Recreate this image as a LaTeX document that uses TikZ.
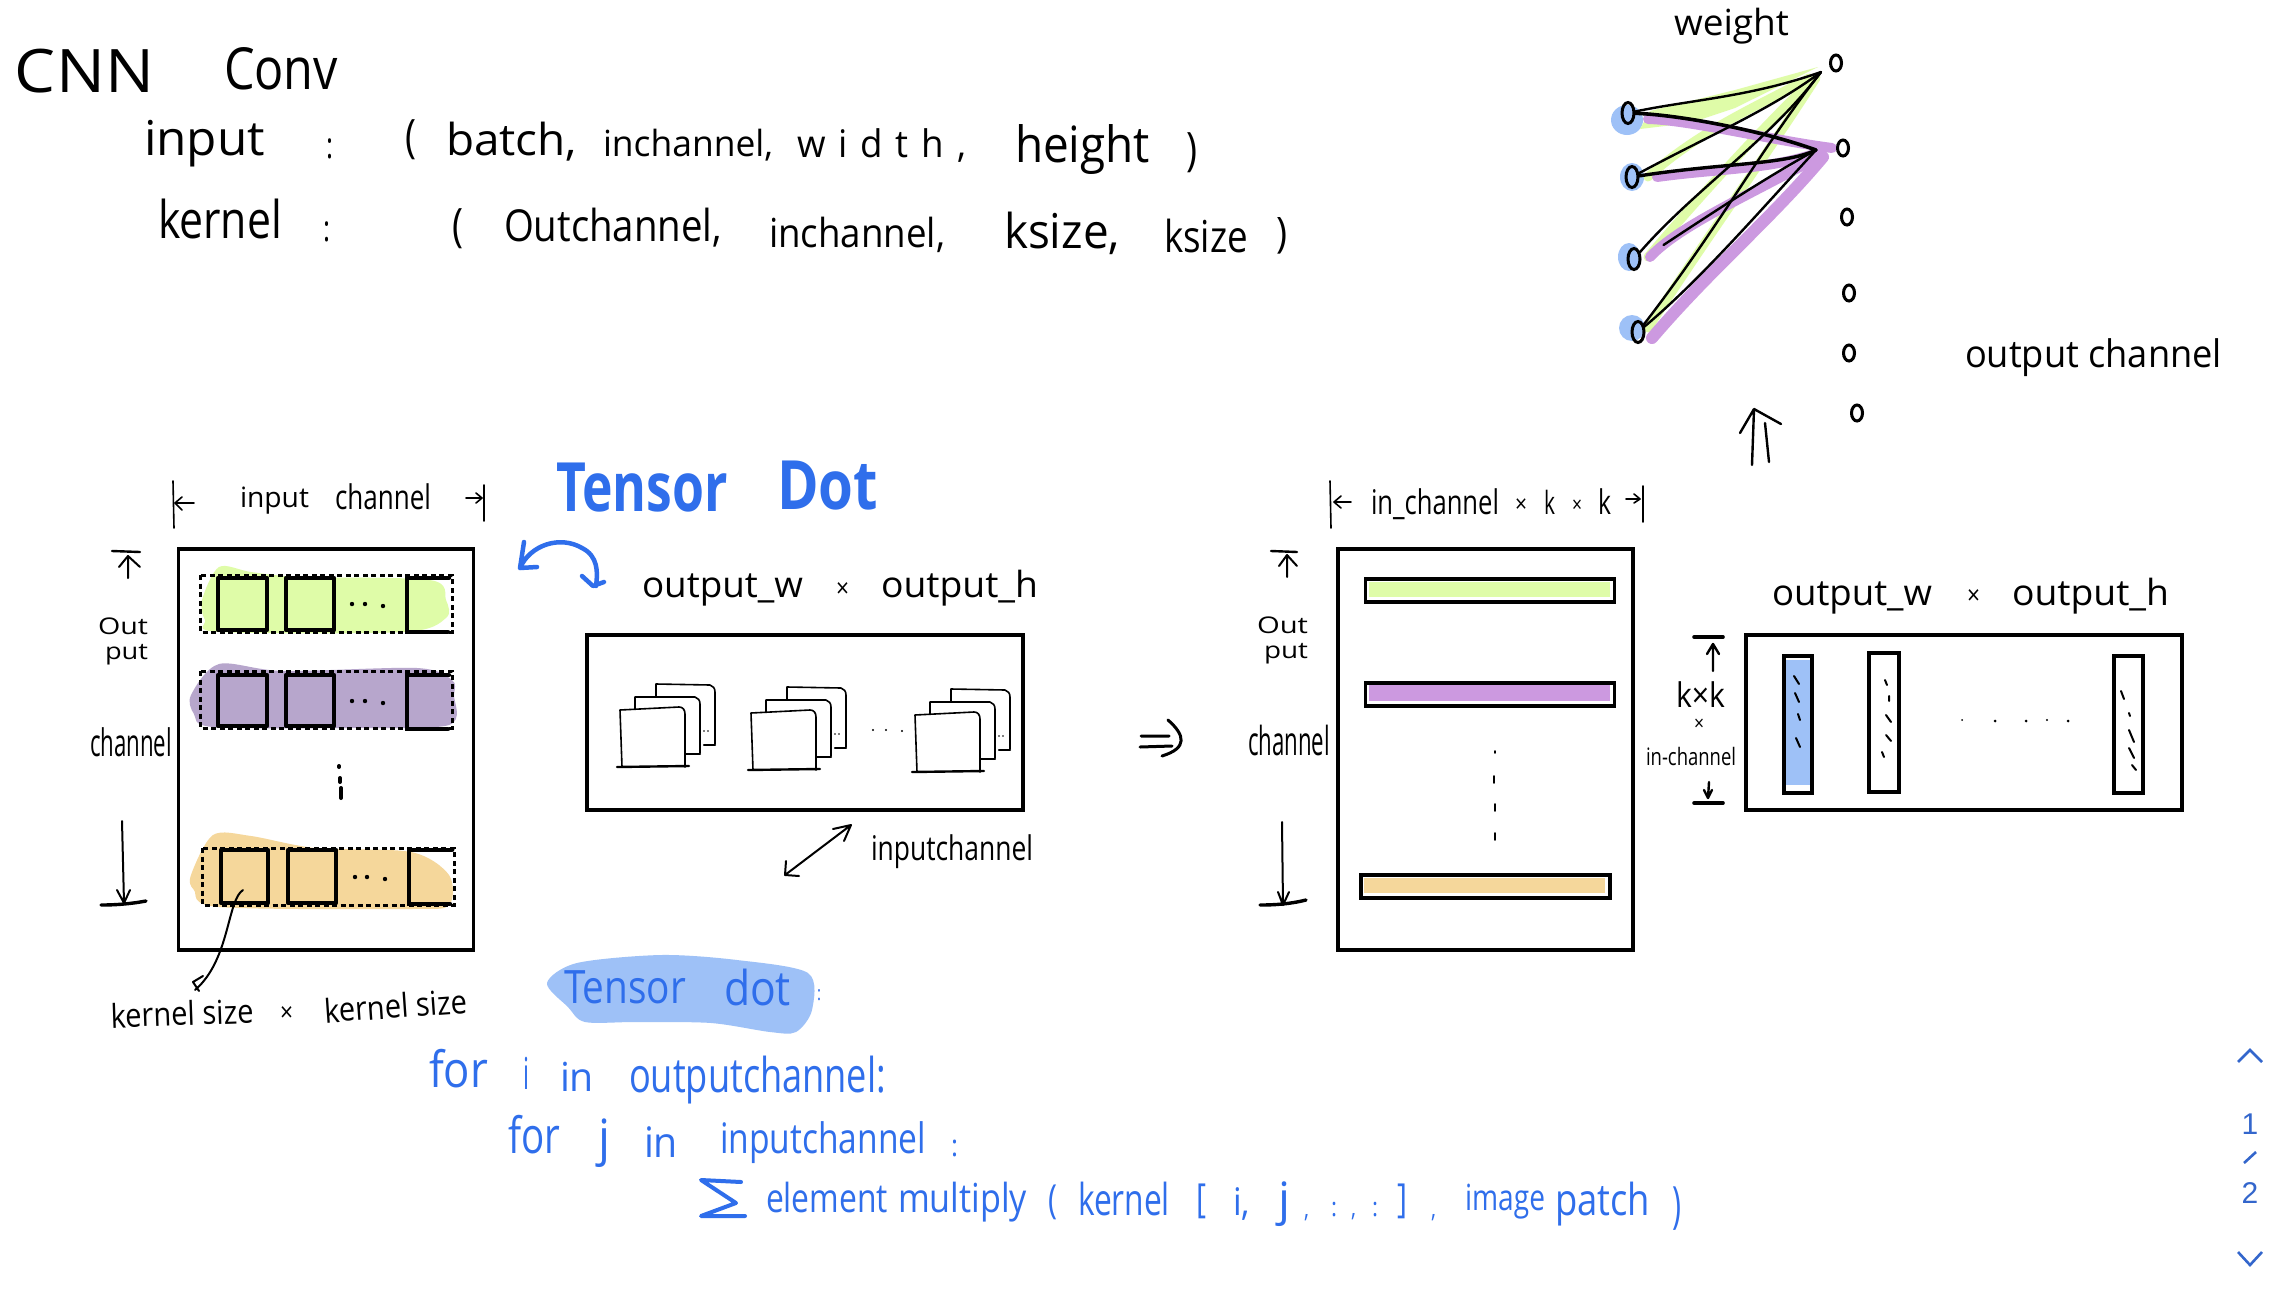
\documentclass[tikz,border=0pt]{standalone}
\usepackage{fontspec}
\usepackage{graphicx}
\setmainfont{Open Sans}
\newfontfamily\navfont{Liberation Sans}
\usetikzlibrary{shapes.geometric}
\definecolor{inkblue}{HTML}{2F6EEB}
\definecolor{hiblue}{HTML}{9EC1F7}
\definecolor{higreen}{HTML}{DFFCA8}
\definecolor{hipurple}{HTML}{B7A6CC}
\definecolor{himagenta}{HTML}{CC99E0}
\definecolor{hiorange}{HTML}{F5D79B}
\definecolor{navblue}{HTML}{3366CC}
\tikzset{
  hw/.style={inner sep=0pt,outer sep=0pt,anchor=base west,text=black},
  bluetxt/.style={text=inkblue},
  spaced/.style={font=\addfontfeature{LetterSpace=35}},
  pen/.style={line width=2.4pt,line cap=round,line join=round},
  thickpen/.style={line width=4pt,line cap=round,line join=round},
  thinpen/.style={line width=1.6pt,line cap=round,line join=round},
  bluepen/.style={line width=3pt,line cap=round,line join=round,draw=inkblue},
  framebox/.style={draw,line width=3.2pt,fill=none},
  barbox/.style={draw,line width=3.6pt,fill=none},
  dashrow/.style={draw,line width=3pt,dash pattern=on 5pt off 3.5pt},
  kernelbox/.style={draw,line width=4.5pt,line join=round},
  inode/.style={ellipse,draw,line width=3pt,minimum width=12pt,minimum height=21pt,inner sep=0pt},
  onode/.style={ellipse,draw,line width=3pt,minimum width=11pt,minimum height=16pt,inner sep=0pt},
  gstroke/.style={line width=9pt,draw=higreen,line cap=round},
  pstroke/.style={line width=10pt,draw=himagenta,line cap=round},
  navline/.style={draw=navblue,line width=2.6pt,line join=miter},
}
% \T[style]{name}{x}{baseline y}{width}{size}{text}
\newcommand\T[7][]{\node[hw,#1] (#2) at (#3,#4) {\fontsize{#6pt}{#6pt}\selectfont\resizebox{#5pt}{\height}{#7}};}
\newcommand\cardstack[2]{%
\begin{scope}[shift={(#1,#2)}]
  \fill[white] (36,-26) rectangle (95,35);
  \draw[thinpen] (36,-10) -- (36,-26) -- (90,-25) .. controls (93,-24) and (95,-22) .. (95,-18) -- (95,34);
  \draw[pen] (84,35) -- (95,35);
  \fill[black] (84,21) circle (.9) (88,21) circle (.9);
  \fill[white] (15,-13) rectangle (80,44);
  \draw[thinpen] (15,0) -- (15,-13) -- (75,-13) .. controls (78,-12) and (80,-10) .. (80,-6) -- (80,43);
  \draw[pen] (65,44) -- (80,44);
  \fill[white] (0,0) rectangle (65,57);
  \draw[thinpen] (2,57) -- (0,0) -- (59,-3) .. controls (63,-3) and (65,0) .. (65,4) -- (65,57);
  \draw[pen] (-3,57) -- (69,56);
\end{scope}}
\begin{document}
\begin{tikzpicture}[x=1pt,y=-1pt]
\useasboundingbox (0,0) rectangle (2284,1288);
\fill[white] (0,0) rectangle (2284,1288);

% ---------- header text
\T{tCNN}{15}{92}{139}{60}{CNN}
\T{tConv}{224}{89}{114}{58}{Conv}
\T{tinput}{144}{155}{121}{48}{input}
\T{tc1}{326}{158}{7}{36}{:}
\T{tp1}{405}{152}{11}{46}{(}
\T{tbatch}{446}{155}{131}{44}{batch,}
\T{tinch}{603}{156}{170}{36}{inchannel,}
\T[spaced]{twidth}{797}{157}{169}{38}{width,}
\T{theight}{1015}{162}{135}{50}{height}
\T{tp2}{1186}{165}{11}{46}{)}
\T{tkernel}{158}{238}{124}{52}{kernel}
\T{tc2}{323}{241}{7}{36}{:}
\T{tp3}{452}{241}{11}{46}{(}
\T{toutch}{504}{241}{218}{44}{Outchannel,}
\T{tinch2}{769}{247}{176}{40}{inchannel,}
\T{tks1}{1004}{248}{116}{48}{ksize,}
\T{tks2}{1164}{252}{84}{44}{ksize}
\T{tp4}{1276}{247}{11}{42}{)}

% ---------- weight diagram
\T{tweight}{1674}{35}{115}{36}{weight}
\T{toutput}{1965}{367}{257}{38}{output channel}
\fill[hiblue] (1627,120) ellipse (16 and 15) (1632,177) ellipse (12 and 14) (1629,257) ellipse (11 and 14) (1632,328) ellipse (13 and 13);
\fill[higreen] (1640,129) -- (1650,111) -- (1735,90) -- (1818,67) -- (1735,108) -- (1690,123) -- cycle;
\draw[gstroke] (1648,177) .. controls (1700,130) and (1760,105) .. (1809,78);
\draw[gstroke] (1648,257) .. controls (1694,203) and (1760,130) .. (1814,78);
\draw[gstroke] (1648,328) .. controls (1712,230) and (1770,150) .. (1816,78);
\draw[pstroke] (1648,119) .. controls (1690,120) and (1770,140) .. (1832,148);
\draw[pstroke] (1657,177) .. controls (1722,168) and (1770,170) .. (1820,152);
\draw[pstroke] (1650,257) .. controls (1680,225) and (1750,195) .. (1820,156);
\draw[pstroke,line width=12pt] (1652,338) .. controls (1710,270) and (1770,220) .. (1823,157);
\node[inode] (i1) at (1628,113) {};
\node[inode] (i2) at (1632,177) {};
\node[inode] (i3) at (1634,259) {};
\node[inode] (i4) at (1638,332) {};
\node[onode] (o1) at (1836,63) {};
\node[onode] (o2) at (1843,148) {};
\node[onode] (o3) at (1847,217) {};
\node[onode] (o4) at (1849,293) {};
\node[onode] (o5) at (1849,353) {};
\node[onode] (o6) at (1857,413) {};
\coordinate (cA) at (1821,72);
\coordinate (cB) at (1816,150);
\draw[pen] (i1) .. controls (1690,100) and (1750,97) .. (cA);
\draw[pen] (i2) .. controls (1710,135) and (1770,110) .. (cA);
\draw[pen] (i3) .. controls (1694,190) and (1770,140) .. (cA);
\draw[pen] (i4) .. controls (1722,223) and (1760,150) .. (cA);
\draw[line width=3.6pt,line cap=round] (i1) .. controls (1680,115) and (1760,130) .. (cB);
\draw[line width=3.4pt,line cap=round] (i2) .. controls (1722,163) and (1785,165) .. (cB);
\draw[pen] (i3.east) ++(22,-14) .. controls (1712,213) and (1770,175) .. (cB);
\draw[pen] (i4) .. controls (1700,280) and (1758,213) .. (cB);
% double arrow up
\draw[pen] (1752,465) -- (1754,409) (1740,433) -- (1754,409) -- (1781,424) (1769,462) -- (1765,423);

% ---------- left panel
\T{tlab1}{240}{507}{69}{28}{input}
\T{tlab2}{335}{509}{96}{34}{channel}
\draw[thinpen] (173,481) -- (174,528);
\draw[thinpen] (194,503) -- (175,503) (182,497) -- (175,503) -- (182,510);
\draw[thinpen] (466,498) -- (482,498) (476,493) -- (482,498) -- (476,503);
\draw[thinpen] (484,485) -- (484,521);
\node[framebox,minimum width=295pt,minimum height=401pt,inner sep=0pt] (inbox) at (326,749.5) {};
\fill[higreen] plot[smooth cycle] coordinates {(202,600) (219,567) (251,572) (300,577) (430,580) (446,600) (446,618) (404,632) (219,632) (205,620)};
\fill[hipurple] plot[smooth cycle] coordinates {(191,695) (219,664) (283,671) (417,668) (452,680) (454,695) (449,725) (350,728) (213,727) (194,714)};
\fill[hiorange] plot[smooth cycle] coordinates {(191,875) (213,835) (251,836) (315,848) (411,852) (449,875) (449,905) (411,909) (219,907) (194,890)};
\draw[dashrow] (200,575) rectangle (452,632);
\draw[dashrow] (200,671) rectangle (452,728);
\draw[dashrow] (202,848) rectangle (454,905);
\node[kernelbox,minimum width=49pt,minimum height=52pt,inner sep=0pt] (k11) at (242.5,604) {};
\node[kernelbox,minimum width=48pt,minimum height=52pt,inner sep=0pt] (k12) at (310,604) {};
\draw[line width=4.5pt,line cap=round] (449,578) -- (407,578) -- (407,632) -- (448,632);
\node[kernelbox,minimum width=49pt,minimum height=51pt,inner sep=0pt] (k21) at (242.5,700.5) {};
\node[kernelbox,minimum width=48pt,minimum height=51pt,inner sep=0pt] (k22) at (310,700.5) {};
\draw[line width=4.5pt,line cap=round] (449,675) -- (407,675) -- (407,729) -- (448,729);
\node[kernelbox,minimum width=47pt,minimum height=53pt,inner sep=0pt] (k31) at (244.5,876.5) {};
\node[kernelbox,minimum width=48pt,minimum height=53pt,inner sep=0pt] (k32) at (312,876.5) {};
\draw[line width=4.5pt,line cap=round] (452,850) -- (409,850) -- (409,904) -- (450,904);
\fill[black] (352,604) circle (2.2) (365,604) circle (2.2) (383,606) circle (2.2);
\fill[black] (352,701) circle (2.2) (365,701) circle (2.2) (383,703) circle (2.2);
\fill[black] (355,877) circle (2.2) (367,877) circle (2.2) (385,879) circle (2.2);
\draw[line width=4pt,line cap=round] (339,766) -- (339,767) (340,778) -- (340,782) (341,788) -- (341,798);
% side labels left
\draw[pen] (112,551) -- (140,552);
\draw[thinpen,line width=2pt] (128,578) -- (128,556) (119,567) -- (128,556) -- (140,567);
\T{tout1}{98}{634}{50}{23}{Out}
\T{tput1}{105}{659}{43}{23}{put}
\T{tch1}{90}{756}{82}{38}{channel}
\draw[thinpen,line width=2pt] (122,821) -- (124,903) (117,890) -- (124,903) -- (130,890);
\draw[thickpen,line width=3.4pt] (101,905) .. controls (115,905) and (130,904) .. (146,901);
% kernel note
\draw[pen,line width=2pt] (243,890) .. controls (227,900) and (230,960) .. (195,990) (203,976) -- (193,982) -- (199,991);
\T[rotate=2]{tks3}{111}{1028}{143}{33}{kernel size}
\T{tx1}{280}{1021}{13}{26}{×}
\T[rotate=4]{tks4}{325}{1023}{143}{33}{kernel size}

% ---------- tensor dot title
\T[bluetxt,font=\bfseries]{tTensor}{556}{511}{172}{68}{Tensor}
\T[bluetxt,font=\bfseries]{tDot}{777}{509}{101}{68}{Dot}
\draw[bluepen,line width=4.5pt] (524,542) -- (520,568) -- (537,567) (520,568) .. controls (530,545) and (560,535) .. (582,548) .. controls (598,556) and (598,572) .. (596,586) (582,576) -- (593,586) -- (604,582);

% ---------- middle box
\T{tow1}{642}{597}{161}{36}{output\_w}
\T{tx2}{836}{597}{13}{26}{×}
\T{toh1}{881}{597}{157}{36}{output\_h}
\node[framebox,minimum width=436pt,minimum height=175pt,inner sep=0pt] (midbox) at (805,722.5) {};
\cardstack{620}{710}
\cardstack{751}{713}
\cardstack{915}{715}
\fill[black] (873,730) circle (1.1) (886,730) circle (1.1) (902,731) circle (1.1);
\draw[pen,line width=2pt] (785,875) -- (851,825) (833,829) -- (851,825) -- (844,841) (786,861) -- (785,875) -- (799,876);
\T{tich}{871}{860}{162}{34}{inputchannel}

% ---------- implies
\draw[pen,line width=3pt] (1141,736) -- (1169,736) (1140,747) -- (1172,746) (1168,720) .. controls (1185,735) and (1188,748) .. (1162,756);

% ---------- right panel
\T{tinc}{1371}{514}{128}{34}{in\_channel}
\T{tx3}{1515}{512}{12}{24}{×}
\T{tk1}{1544}{514}{11}{32}{k}
\T{tx4}{1572}{512}{10}{22}{×}
\T{tk2}{1598}{514}{13}{34}{k}
\draw[thinpen] (1330,481) -- (1331,528);
\draw[thinpen] (1351,502) -- (1334,502) (1341,496) -- (1334,502) -- (1341,508);
\draw[thinpen] (1626,499) -- (1640,499) (1634,494) -- (1640,499) -- (1634,503);
\draw[thinpen] (1643,486) -- (1643,522);
\node[framebox,minimum width=295pt,minimum height=401pt,inner sep=0pt] (flatbox) at (1485.5,749.5) {};
\draw[pen] (1271,551) -- (1297,552);
\draw[thinpen,line width=2pt] (1287,577) -- (1287,555) (1279,566) -- (1287,555) -- (1297,566);
\T{tout2}{1257}{633}{51}{23}{Out}
\T{tput2}{1264}{658}{44}{23}{put}
\T{tch2}{1248}{755}{82}{40}{channel}
\draw[thinpen,line width=2pt] (1282,822) -- (1283,905) (1278,892) -- (1283,905) -- (1289,892);
\draw[thickpen,line width=3.4pt] (1260,905) .. controls (1275,905) and (1290,904) .. (1306,900);
\fill[higreen] (1369,582) rectangle (1610,597);
\fill[himagenta] (1369,685) rectangle (1610,701);
\fill[hiorange] (1364,878) rectangle (1605,893);
\node[barbox,minimum width=249pt,minimum height=23pt,inner sep=0pt] (bar1) at (1490,590.5) {};
\node[barbox,minimum width=249pt,minimum height=23pt,inner sep=0pt] (bar2) at (1490,694.5) {};
\node[barbox,minimum width=249pt,minimum height=23pt,inner sep=0pt] (bar3) at (1485.5,886.5) {};
\draw[thinpen] (1495,751) -- (1495,753) (1494,776) -- (1494,783) (1495,804) -- (1495,811) (1495,833) -- (1495,840);

% ---------- output columns
\T{tow2}{1772}{605}{160}{36}{output\_w}
\T{tx5}{1967}{604}{13}{26}{×}
\T{toh2}{2012}{605}{157}{36}{output\_h}
\node[framebox,minimum width=436pt,minimum height=175pt,inner sep=0pt] (outbox) at (1964,722.5) {};
\fill[hiblue] (1786,660) rectangle (1811,785);
\node[framebox,minimum width=28pt,minimum height=137pt,inner sep=0pt] (c1) at (1798,724.5) {};
\node[framebox,minimum width=30pt,minimum height=139pt,inner sep=0pt] (c2) at (1884,722.5) {};
\node[framebox,minimum width=29pt,minimum height=137pt,inner sep=0pt] (c3) at (2128.5,724.5) {};
\draw[thinpen,line width=2pt] (1794,676) -- (1799,684) (1795,693) -- (1799,702) (1798,714) -- (1800,720) (1796,738) -- (1800,747);
\draw[thinpen,line width=2pt] (1885,680) -- (1887,685) (1889,696) -- (1889,701) (1886,715) -- (1891,722) (1886,735) -- (1891,741) (1882,752) -- (1884,757);
\draw[thinpen,line width=2pt] (2121,691) -- (2124,699) (2129,713) -- (2130,716) (2129,730) -- (2134,742) (2129,748) -- (2134,758) (2132,765) -- (2136,770);
\fill[black] (1962,720) circle (1) (1995,721) circle (1.5) (2026,721) circle (1.5) (2047,720) circle (1.2) (2068,721) circle (1.5);
\draw[thickpen,line width=3.6pt] (1694,637) -- (1723,637) (1694,803) -- (1723,803);
\draw[pen] (1713,671) -- (1713,644) (1707,654) -- (1713,644) -- (1719,654);
\draw[pen] (1709,782) -- (1708,798) (1704,790) -- (1708,798) -- (1712,790);
\T{tkk}{1676}{707}{49}{34}{k×k}
\T{tx6}{1694}{730}{10}{20}{×}
\T{tinc2}{1646}{765}{90}{24}{in-channel}

% ---------- pseudo code
\fill[hiblue] plot[smooth cycle,tension=.5] coordinates {(547,983) (577,963) (661,955) (737,960) (808,973) (812,1010) (796,1032) (770,1032) (711,1023) (636,1022) (585,1022) (568,1007)};
\T[bluetxt]{tTs}{564}{1003}{122}{46}{Tensor}
\T[bluetxt]{tdot}{724}{1005}{67}{48}{dot}
\T[bluetxt]{tcn}{817}{1000}{4}{20}{:}
\T[bluetxt]{tfor1}{429}{1087}{59}{50}{for}
\T[bluetxt]{ti}{523}{1089}{6}{44}{i}
\T[bluetxt]{tin1}{560}{1091}{34}{40}{in}
\T[bluetxt]{tocn}{629}{1092}{257}{48}{outputchannel:}
\T[bluetxt]{tfor2}{508}{1153}{52}{50}{for}
\T[bluetxt]{tj}{598}{1155}{12}{50}{j}
\T[bluetxt]{tin2}{644}{1157}{34}{42}{in}
\T[bluetxt]{tich2}{720}{1153}{206}{42}{inputchannel}
\T[bluetxt]{tcn2}{951}{1156}{7}{30}{:}
\draw[bluepen,line width=4pt] (741,1182) -- (701,1180) -- (736,1203) -- (701,1216) -- (745,1216);
\T[bluetxt]{tel}{766}{1212}{122}{40}{element}
\T[bluetxt]{tmul}{898}{1212}{129}{40}{multiply}
\T[bluetxt]{tp5}{1048}{1213}{9}{40}{(}
\T[bluetxt]{tkn}{1078}{1215}{92}{44}{kernel}
\T[bluetxt]{tb1}{1196}{1212}{10}{40}{[}
\T[bluetxt]{ti2}{1233}{1215}{17}{38}{i,}
\T[bluetxt]{tj2}{1278}{1215}{12}{46}{j}
\T[bluetxt]{tcmj}{1304}{1217}{5}{26}{,}
\T[bluetxt]{tcc1}{1331}{1216}{6}{26}{:}
\T[bluetxt]{tcm}{1351}{1216}{5}{26}{,}
\T[bluetxt]{tcc2}{1372}{1216}{6}{26}{:}
\T[bluetxt]{tb2}{1397}{1212}{10}{40}{]}
\T[bluetxt]{tcm2}{1431}{1217}{5}{26}{,}
\T[bluetxt]{timg}{1465}{1210}{80}{36}{image}
\T[bluetxt]{tpat}{1555}{1215}{95}{44}{patch}
\T[bluetxt]{tp6}{1672}{1222}{9}{50}{)}

% ---------- page navigation
\draw[navline] (2238,1062) -- (2250,1050) -- (2262,1062);
\node[inner sep=0pt,text=navblue,font=\navfont\fontsize{30pt}{30pt}\selectfont] (nav1) at (2250,1124) {1};
\draw[navline] (2244,1163) -- (2256,1152);
\node[inner sep=0pt,text=navblue,font=\navfont\fontsize{30pt}{30pt}\selectfont] (nav2) at (2250,1193) {2};
\draw[navline] (2238,1252) -- (2250,1265) -- (2262,1252);
\end{tikzpicture}
\end{document}
